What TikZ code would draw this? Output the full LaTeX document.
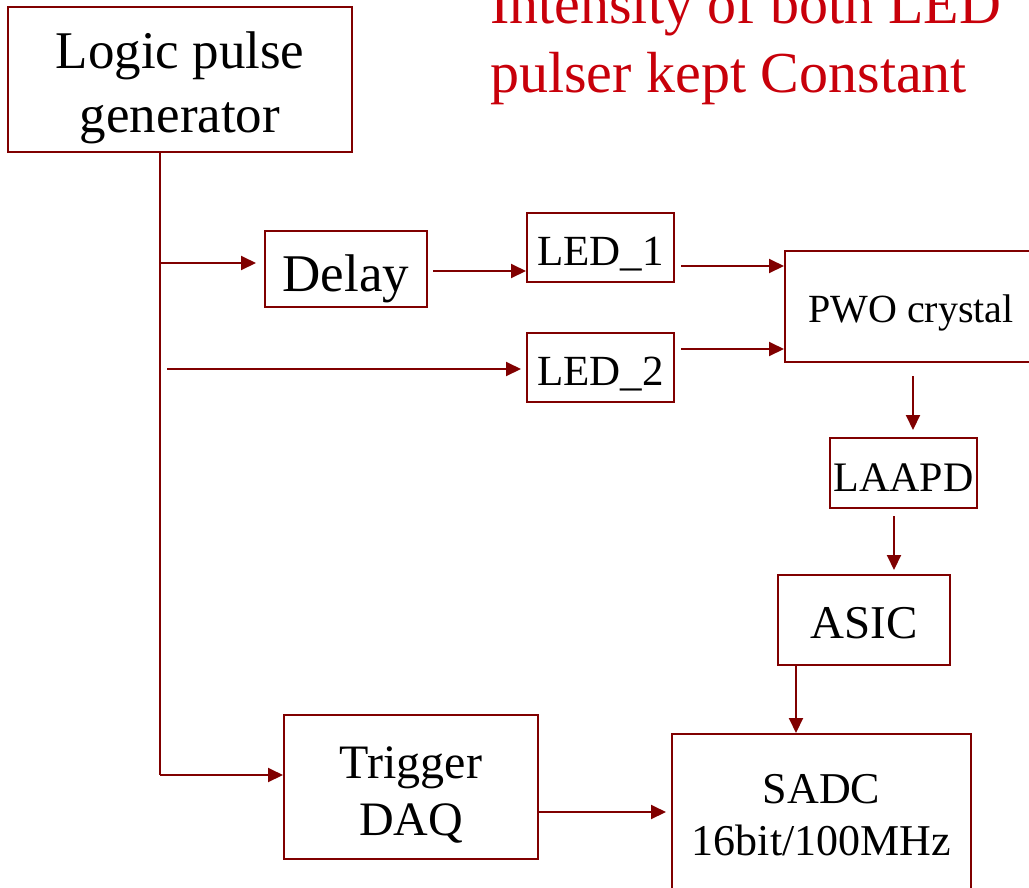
\documentclass[tikz,border=0pt]{standalone}
\usepackage{fontspec}
\setmainfont{Liberation Serif}
\usetikzlibrary{arrows.meta}
\definecolor{boxred}{RGB}{128,0,0}
\definecolor{notered}{RGB}{200,0,10}
\newcommand\fsz[2]{\fontsize{#1}{#2}\selectfont}
% two centred lines whose reference point is the first baseline
\newcommand\twolines[2]{\begin{tabular}[t]{@{}c@{}}#1\\#2\end{tabular}}
\tikzset{
  blk/.style={draw=boxred, line width=2pt, inner sep=0pt, text=black},
  % place the first baseline at a given offset from the box centre
  drop/.style={text height=#1, text depth=0pt},
  rise/.style={text height=0pt, text depth=#1},
  wire/.style={draw=boxred, line width=2pt},
  arr/.style={wire, -{Triangle[length=15pt,width=14pt]}},
  note/.style={anchor=base west, inner sep=0pt, text=notered, font=\fsz{58}{69}},
}
\begin{document}
\begin{tikzpicture}[x=1pt,y=-1pt]
\useasboundingbox (0,0) rectangle (1029,887);

% blocks
\node[blk, minimum width=344, minimum height=145, font=\fsz{53}{64}, rise=23pt] (logic) at (180,79.5) {\twolines{Logic pulse}{generator}};
\node[blk, minimum width=162, minimum height=76, font=\fsz{53}{64}, drop=44pt] (delay) at (346,269) {Delay};
\node[blk, minimum width=147, minimum height=69, font=\fsz{43}{50}, drop=35pt] (led1) at (600.5,247.5) {LED\_1};
\node[blk, minimum width=147, minimum height=69, font=\fsz{43}{50}, drop=35pt] (led2) at (600.5,367.5) {LED\_2};
\node[blk, minimum width=252, minimum height=111, font=\fsz{40}{48}, drop=31pt] (pwo) at (911,306.5) {PWO crystal};
\node[blk, minimum width=147, minimum height=70, font=\fsz{42}{50}, drop=36pt] (laapd) at (903.5,473) {LAAPD};
\node[blk, minimum width=172, minimum height=90, font=\fsz{47}{56}, drop=36pt] (asic) at (864,620) {ASIC};
\node[blk, minimum width=254, minimum height=144, font=\fsz{48}{57}, rise=18pt] (trigger) at (411,787) {\twolines{Trigger}{DAQ}};
\node[blk, minimum width=299, minimum height=166, font=\fsz{44}{52}, rise=28pt] (sadc) at (821.5,817) {\twolines{SADC}{16bit/100MHz}};

% remark
\node[note] (note1) at (490,23) {Intensity of both LED};
\node[note] (note2) at (490,92) {pulser kept Constant};

% pulse distribution
\coordinate (jD) at (160,263);
\coordinate (jT) at (160,775);
\coordinate (s2) at (167,369);
\draw[wire] (logic.south -| jT) -- (jT);
\draw[arr, shorten >=8pt] (jD) -- (jD -| delay.west);
\draw[arr, shorten >=5pt] (s2) -- (s2 -| led2.west);
\draw[arr] (jT) -- (jT -| trigger.west);

\coordinate (d1) at (433,271);
\draw[arr] (d1) -- (d1 -| led1.west);
\coordinate (e1) at (681,266);
\draw[arr] (e1) -- (e1 -| pwo.west);
\coordinate (e2) at (681,349);
\draw[arr] (e2) -- (e2 -| pwo.west);

% readout chain
\coordinate (p1) at (913,376);
\draw[arr, shorten >=7pt] (p1) -- (p1 |- laapd.north);
\coordinate (q1) at (894,516);
\draw[arr, shorten >=4pt] (q1) -- (q1 |- asic.north);
\coordinate (r1) at (796,665);
\draw[arr] (r1) -- (r1 |- sadc.north);
\coordinate (g1) at (539,812);
\draw[arr, shorten >=5pt] (g1) -- (g1 -| sadc.west);
\end{tikzpicture}
\end{document}
